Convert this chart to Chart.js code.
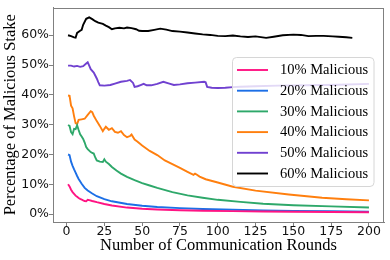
<!DOCTYPE html>
<html>
<head>
<meta charset="utf-8">
<script src="https://cdn.jsdelivr.net/npm/chart.js@4.4.0/dist/chart.umd.min.js"></script>
<style>
  html, body { margin: 0; padding: 0; background: #fff; }
  #wrap { width: 390px; height: 260px; }
</style>
</head>
<body>
<div id="wrap"><canvas id="stakeChart" width="390" height="260"></canvas></div>
<script>
// axis ticks
const xTicks = [0, 25, 50, 75, 100, 125, 150, 175, 200];
const yTicks = [0, 10, 20, 30, 40, 50, 60];
const yTickLabels = ['0%', '10%', '20%', '30%', '40%', '50%', '60%'];

const seriesLabels = ['10% Malicious', '20% Malicious', '30% Malicious', '40% Malicious', '50% Malicious', '60% Malicious'];
const seriesColors = ['#ff1483', '#1c6fe6', '#2ea86a', '#ff7f0e', '#7041d0', '#000000'];

// values (round, % of malicious stake)
const rounds10 = [1, 2, 3, 4, 5, 6, 7, 8, 9, 10, 11, 12, 13, 14, 15, 17, 20, 25, 30, 40, 50, 60, 75, 90, 110, 130, 150, 175, 200];
const stake10 = [10, 9.3, 8.2, 7.4, 6.8, 6.2, 5.8, 5.4, 5.1, 4.9, 4.6, 4.4, 4.3, 4.8, 4.7, 4.4, 4.0, 3.4, 2.9, 2.2, 1.8, 1.55, 1.3, 1.15, 1.0, 0.9, 0.8, 0.72, 0.65];

const rounds20 = [1, 2, 3, 4, 5, 6, 7, 8, 10, 12, 14, 17, 20, 25, 30, 40, 50, 60, 75, 90, 110, 130, 150, 175, 200];
const stake20 = [20, 19.8, 17.6, 16.2, 15, 13.9, 12.8, 11.8, 10.2, 8.8, 7.9, 6.9, 6.0, 5.0, 4.3, 3.4, 2.8, 2.4, 2.0, 1.7, 1.45, 1.25, 1.1, 0.95, 0.85];

const rounds30 = [1, 2, 3, 4, 5, 6, 7, 8, 9, 10, 11, 12, 13, 14, 16, 17, 18, 19, 20, 22, 24, 25, 26, 28, 30, 33, 36, 40, 45, 50, 55, 60, 70, 80, 90, 100, 115, 130, 150, 175, 200];
const stake30 = [29.9, 29.6, 27.5, 26.8, 28.6, 28.5, 29.8, 28.2, 26.8, 26, 25.2, 24, 22.5, 21.8, 20.8, 20.5, 20.3, 19, 18, 17.6, 17.5, 18.4, 17.6, 16.8, 15.8, 14.6, 13.6, 12.5, 11.4, 10.4, 9.6, 8.8, 7.4, 6.3, 5.5, 4.8, 4.1, 3.5, 3.0, 2.6, 2.2];

const rounds40 = [1, 2, 3, 4, 5, 6, 7, 8, 10, 12, 14, 16, 17, 18, 20, 22, 24, 25, 26, 28, 30, 32, 34, 36, 38, 40, 42, 43, 45, 47, 50, 55, 60, 65, 70, 75, 80, 84, 85, 86, 88, 92, 100, 110, 125, 147, 169, 185, 200];
const stake40 = [39.8, 39.7, 36.4, 35.5, 32.8, 30.5, 30.2, 31.6, 31.8, 32, 33.3, 34.5, 34.2, 33, 31.2, 29.6, 27.8, 28.6, 29.3, 28.3, 28.8, 27.6, 27.3, 27.8, 26.5, 25.8, 26.2, 26.7, 25, 24.3, 23, 21.2, 19.8, 18, 16.8, 15.5, 14.2, 13.2, 13.6, 13.3, 12.6, 11.7, 10.6, 9.2, 7.9, 6.6, 5.5, 5.0, 4.6];

const rounds50 = [1, 3, 5, 7, 9, 11, 13, 14, 15, 16, 18, 19, 20, 21, 22, 25, 29, 32, 36, 40, 42, 44, 45, 47, 49, 51, 53, 56, 60, 64, 68, 71, 75, 80, 85, 91, 92, 93, 96, 100, 105, 110, 115, 125, 140, 160, 180, 200];
const stake50 = [49.8, 49.8, 49.5, 49.7, 49.4, 49.6, 50.5, 50.9, 49.8, 48.6, 47.5, 46.5, 45.5, 44.3, 43.2, 43.1, 43.3, 43.8, 44.4, 44.7, 45, 44, 42.7, 42.9, 43.3, 43.7, 43.2, 43.2, 43.7, 44.4, 43.8, 43.3, 43.5, 43.9, 44.1, 44.4, 44.2, 42.7, 42.4, 42.3, 42.4, 42.6, 42.7, 42.9, 43.1, 43.2, 43.4, 43.7];

const rounds60 = [1, 3, 5, 6, 7, 9, 10, 11, 13, 15, 17, 19, 21, 24, 26, 28, 30, 32, 35, 38, 40, 43, 46, 48, 50, 54, 58, 62, 66, 70, 75, 80, 85, 90, 95, 100, 105, 110, 115, 120, 125, 132, 137, 143, 150, 155, 160, 165, 170, 176, 180, 185, 189];
const stake60 = [60, 59.7, 59.3, 59.2, 60.8, 61.5, 61.8, 63.5, 65.5, 66, 65.4, 64.7, 64.2, 63.8, 63.2, 62.7, 62, 62.3, 62.5, 62.3, 62.6, 62.4, 62, 61.5, 61.4, 61.4, 61.8, 62.2, 61.9, 61.4, 61.2, 60.9, 60.6, 60.3, 60.1, 59.8, 59.7, 59.9, 59.6, 59.4, 59.6, 59.1, 59.5, 60, 60.2, 60.1, 59.7, 59.8, 59.8, 59.6, 59.5, 59.3, 59.1];

const allRounds = [rounds10, rounds20, rounds30, rounds40, rounds50, rounds60];
const allStakes = [stake10, stake20, stake30, stake40, stake50, stake60];

document.addEventListener('DOMContentLoaded', function() {
    drawStakeChart();
});

// box around the plot area (top / right spines)
const frameBox = {
    id: 'frameBox',
    afterDraw(chart) {
        const a = chart.chartArea;
        const ctx = chart.ctx;
        ctx.save();
        ctx.strokeStyle = '#808080';
        ctx.lineWidth = 1;
        ctx.strokeRect(Math.round(a.left) + 0.5, Math.round(a.top) + 0.5,
            Math.round(a.right - a.left) - 1, Math.round(a.bottom - a.top) - 1);
        ctx.restore();
    }
};

// matplotlib-like legend sitting inside the axes
const innerLegend = {
    id: 'innerLegend',
    afterDatasetsDraw(chart) {
        const ctx = chart.ctx;
        const bx = 232.5, by = 57.5, bw = 141.5, bh = 129;
        ctx.save();
        ctx.beginPath();
        ctx.roundRect(bx, by, bw, bh, 4);
        ctx.fillStyle = 'rgba(255,255,255,0.8)';
        ctx.fill();
        ctx.strokeStyle = '#d6d6d6';
        ctx.lineWidth = 1;
        ctx.stroke();

        ctx.font = '14.5px "Liberation Serif"';
        ctx.textBaseline = 'middle';
        ctx.textAlign = 'left';
        chart.data.datasets.forEach((ds, i) => {
            const y = 70 + i * 20.7;
            ctx.beginPath();
            ctx.moveTo(237, y);
            ctx.lineTo(268, y);
            ctx.strokeStyle = ds.borderColor;
            ctx.lineWidth = 1.9;
            ctx.stroke();
            ctx.fillStyle = '#000';
            ctx.fillText(ds.label, 280, y + 0.5);
        });
        ctx.restore();
    }
};

function drawStakeChart() {
    const ctx = document.getElementById('stakeChart').getContext('2d');
    const datasets = seriesLabels.map((label, i) => ({
        label: label,
        data: allRounds[i].map((r, j) => ({ x: r, y: allStakes[i][j] })),
        borderColor: seriesColors[i],
        backgroundColor: seriesColors[i],
        borderWidth: 1.9,
        pointRadius: 0,
        tension: 0,
        fill: false
    }));

    const chart = new Chart(ctx, {
        type: 'line',
        data: { datasets: datasets },
        options: {
            responsive: false,
            animation: false,
            devicePixelRatio: 1,
            layout: { padding: { top: 4, right: 6, left: 0, bottom: 0 } },
            plugins: {
                legend: { display: false },
                tooltip: { enabled: false }
            },
            scales: {
                x: {
                    type: 'linear',
                    min: -8.95,
                    max: 209.95,
                    afterBuildTicks: (scale) => { scale.ticks = xTicks.map(v => ({ value: v })); },
                    afterFit: (scale) => { scale.height = 38; },
                    ticks: {
                        autoSkip: false,
                        maxRotation: 0,
                        padding: -2,
                        color: '#111',
                        font: { family: 'DejaVu Sans', size: 12.5 }
                    },
                    grid: { drawOnChartArea: false, tickLength: 4, color: '#808080' },
                    border: { color: '#808080' },
                    title: {
                        display: true,
                        text: 'Number of Communication Rounds',
                        color: '#000',
                        font: { family: 'Liberation Serif', size: 16.5 },
                        padding: { top: 0, bottom: 4.5 }
                    }
                },
                y: {
                    min: -2.64,
                    max: 69.3,
                    afterBuildTicks: (scale) => { scale.ticks = yTicks.map(v => ({ value: v })); },
                    afterFit: (scale) => { scale.width = 53; },
                    ticks: {
                        autoSkip: false,
                        padding: 0,
                        color: '#111',
                        font: { family: 'DejaVu Sans', size: 12.5 },
                        callback: (v) => yTickLabels[yTicks.indexOf(v)]
                    },
                    grid: { drawOnChartArea: false, tickLength: 4, color: '#808080' },
                    border: { color: '#808080' },
                    title: {
                        display: true,
                        text: 'Percentage of Malicious Stake',
                        color: '#000',
                        font: { family: 'Liberation Serif', size: 16.5 },
                        padding: { top: 1, bottom: 0 }
                    }
                }
            }
        },
        plugins: [frameBox, innerLegend]
    });

    window.myStakeChart = chart;
}
</script>
</body>
</html>
